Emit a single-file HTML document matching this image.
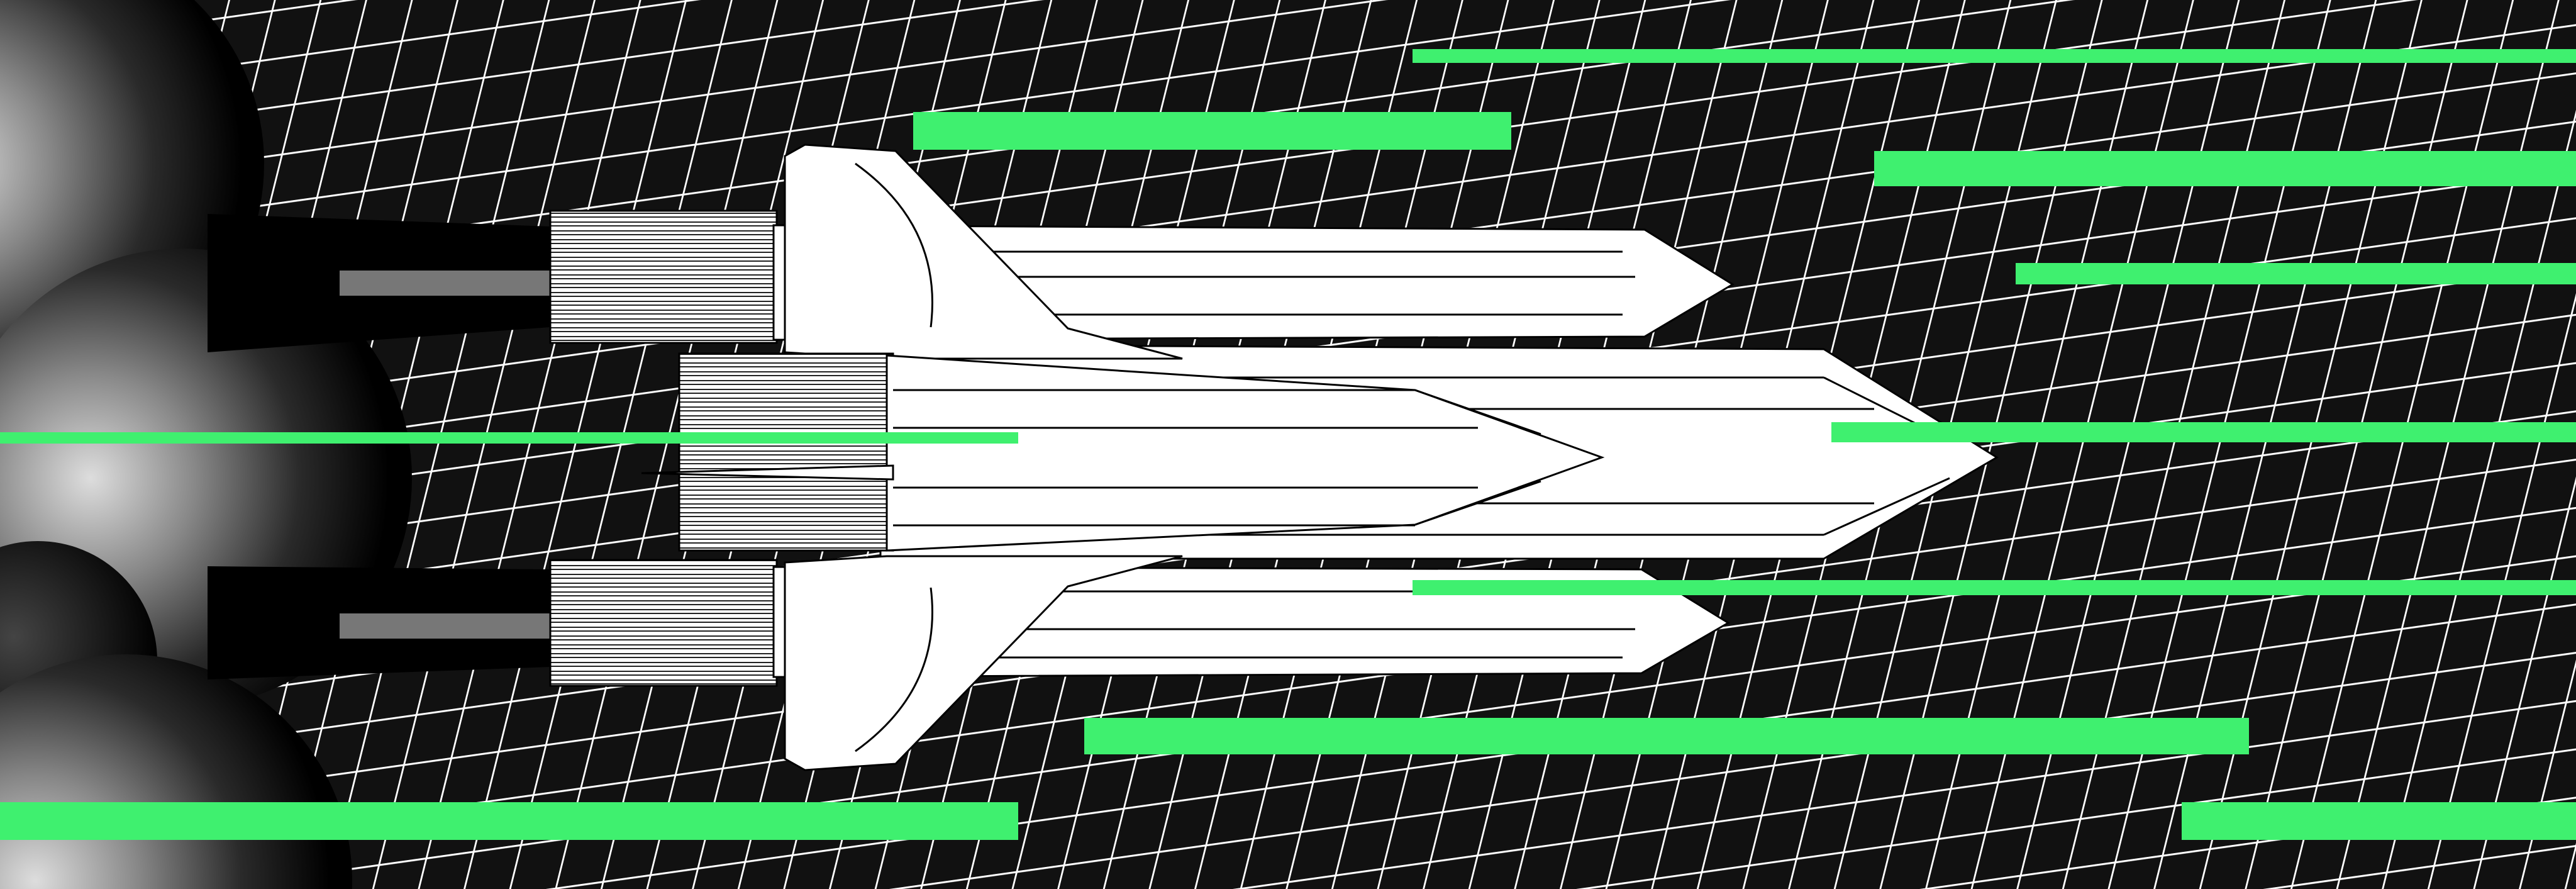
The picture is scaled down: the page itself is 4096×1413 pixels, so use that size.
<!DOCTYPE html>
<html><head><style>html,body{margin:0;padding:0;background:#111;overflow:hidden;width:4096px;height:1413px}svg{display:block}</style></head>
<body>
<svg width="4096" height="1413" viewBox="0 0 4096 1413" xmlns="http://www.w3.org/2000/svg">
<defs>
<pattern id="g" width="76" height="76" patternUnits="userSpaceOnUse" patternTransform="rotate(-8) skewX(-22)">
<rect width="76" height="76" fill="#111"/>
<path d="M0 0H76M0 0V76" stroke="#fff" stroke-width="6" fill="none"/>
</pattern>
<radialGradient id="s1" cx="0.3" cy="0.5" r="0.65">
<stop offset="0" stop-color="#ddd"/><stop offset="0.35" stop-color="#888"/><stop offset="0.7" stop-color="#2a2a2a"/><stop offset="1" stop-color="#000"/>
</radialGradient>
<radialGradient id="s2" cx="0.4" cy="0.4" r="0.6">
<stop offset="0" stop-color="#444"/><stop offset="1" stop-color="#000"/>
</radialGradient>
<pattern id="stripe" width="30" height="14" patternUnits="userSpaceOnUse">
<rect width="30" height="14" fill="#fff"/><path d="M0 3H30M0 9H30" stroke="#222" stroke-width="2"/>
</pattern>
</defs>
<rect width="4096" height="1413" fill="url(#g)"/>
<circle cx="60" cy="260" r="360" fill="url(#s1)"/>
<circle cx="290" cy="760" r="365" fill="url(#s1)"/>
<circle cx="60" cy="1050" r="190" fill="url(#s2)"/>
<circle cx="200" cy="1400" r="360" fill="url(#s1)"/>
<polygon points="330,340 875,360 875,520 330,560" fill="#000"/>
<rect x="540" y="430" width="335" height="40" fill="#777"/>
<polygon points="330,900 875,905 875,1060 330,1080" fill="#000"/>
<rect x="540" y="975" width="335" height="40" fill="#777"/>
<g fill="#fff" stroke="#000" stroke-width="3">
<rect x="875" y="335" width="360" height="210" fill="url(#stripe)"/>
<polygon points="1230,358 2615,365 2755,452 2615,535 1230,540"/>
<path d="M1300 400H2580M1300 440H2600M1300 500H2580" stroke="#000" stroke-width="3" fill="none"/>
<rect x="875" y="890" width="360" height="200" fill="url(#stripe)"/>
<polygon points="1230,901 2610,905 2748,990 2610,1070 1230,1076"/>
<path d="M1300 940H2580M1300 1000H2600M1300 1045H2580" stroke="#000" stroke-width="3" fill="none"/>
<polygon points="1400,548 2900,555 3175,727 2900,888 1400,888"/>
<path d="M1500 600H2900M1500 650H2980M1500 800H2980M1500 850H2900M2900 600L3100 700M2900 850L3100 760" stroke="#000" stroke-width="3" fill="none"/>
<polygon points="1248,248 1280,230 1424,240 1698,522 1880,570 1410,570 1248,560"/>
<polygon points="1248,1206 1280,1224 1424,1214 1698,932 1880,884 1410,884 1248,894"/>
<path d="M1360 260 Q1500 360 1480 520 M1360 1194 Q1500 1094 1480 934" stroke="#000" stroke-width="3" fill="none"/>
<rect x="1080" y="562" width="340" height="313" fill="url(#stripe)"/>
<polygon points="1410,565 2250,620 2547,727 2250,834 1410,875"/>
<path d="M1420 620H2250M1420 680H2350M1420 775H2350M1420 835H2250M2250 620L2450 690M2250 834L2450 765" stroke="#000" stroke-width="3" fill="none"/>
<polygon points="1020,752 1420,740 1420,762" fill="#fff"/>
</g>
<g fill="#3ff06f">
<rect x="2246" y="78" width="1850" height="22"/>
<rect x="1452" y="178" width="951" height="60"/>
<rect x="2980" y="240" width="1116" height="56"/>
<rect x="3205" y="418" width="891" height="34"/>
<rect x="2912" y="671" width="1184" height="32"/>
<rect x="0" y="687" width="1619" height="18"/>
<rect x="2246" y="922" width="1850" height="24"/>
<rect x="1724" y="1141" width="1852" height="58"/>
<rect x="0" y="1275" width="1619" height="60"/>
<rect x="3469" y="1275" width="627" height="60"/>
</g>
</svg>
</body></html>
